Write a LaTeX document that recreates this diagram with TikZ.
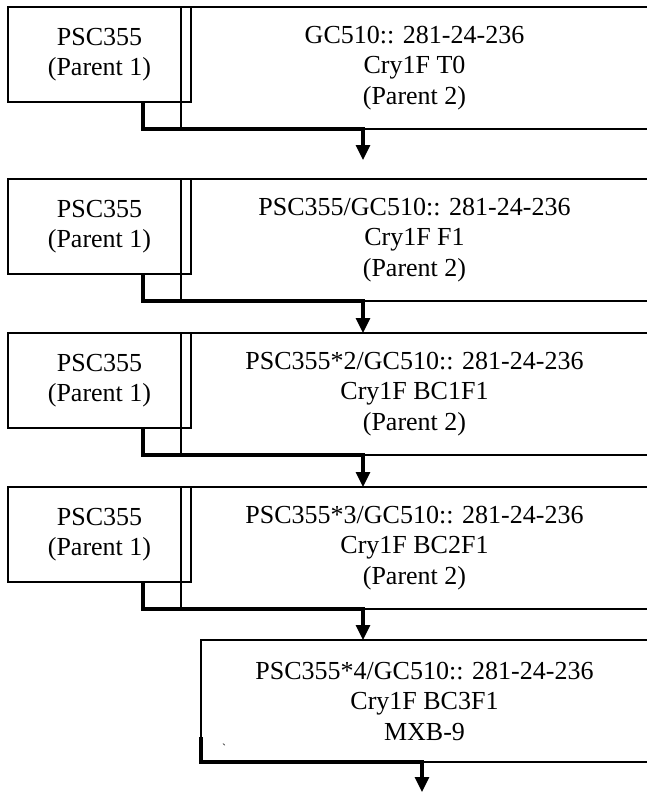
\documentclass[tikz,border=0pt]{standalone}
\usepackage{fontspec}
\setmainfont{Liberation Serif}
\usetikzlibrary{positioning,calc,arrows.meta}

\begin{document}
\begin{tikzpicture}[x=1pt,y=-1pt,
    every node/.style={font=\fontsize{26}{30.5}\selectfont},
    parent box/.style={draw,line width=1.3pt,outer sep=0pt,inner sep=2pt,align=center,
                       anchor=north west,minimum width=183pt,minimum height=95pt},
    cross box/.style={parent box,minimum width=467pt,minimum height=122pt},
    flow/.style={line width=3.2pt,-{Triangle[length=15pt,width=14pt]}},
    link/.style={line width=3.2pt}]

  \useasboundingbox (0,0) rectangle (646,793);

  % generation 1
  \node[parent box] (p1) at (8,7) {PSC355\\(Parent 1)};
  \node[cross box]  (c1) at (181,7) {GC510:: 281-24-236\\Cry1F T0\\(Parent 2)};

  % generation 2
  \node[parent box] (p2) at (8,179) {PSC355\\(Parent 1)};
  \node[cross box]  (c2) at (181,179) {PSC355/GC510:: 281-24-236\\Cry1F F1\\(Parent 2)};

  % generation 3
  \node[parent box] (p3) at (8,333) {PSC355\\(Parent 1)};
  \node[cross box]  (c3) at (181,333) {PSC355*2/GC510:: 281-24-236\\Cry1F BC1F1\\(Parent 2)};

  % generation 4
  \node[parent box] (p4) at (8,487) {PSC355\\(Parent 1)};
  \node[cross box]  (c4) at (181,487) {PSC355*3/GC510:: 281-24-236\\Cry1F BC2F1\\(Parent 2)};

  % final line
  \node[cross box,minimum width=447pt] (c5) at (201,640) {PSC355*4/GC510:: 281-24-236\\Cry1F BC3F1\\MXB-9};
  \node (tick) at (224,748) {\fontsize{12}{12}\selectfont\textasciigrave};

  \coordinate (e1) at (363,160);
  \coordinate (e2) at (363,333);
  \coordinate (e3) at (363,487);
  \coordinate (e4) at (363,640);
  \coordinate (e5) at (422,792);

  \draw[flow] ([xshift=-48pt]p1.south east) |- (e1 |- c1.south) -- (e1);
  \draw[flow] ([xshift=-48pt]p2.south east) |- (e2 |- c2.south) -- (e2);
  \draw[flow] ([xshift=-48pt]p3.south east) |- (e3 |- c3.south) -- (e3);
  \draw[flow] ([xshift=-48pt]p4.south east) |- (e4 |- c4.south) -- (e4);
  \draw[flow] ([yshift=25pt]c5.south west) -- (c5.south west) -| (e5);

\end{tikzpicture}
\end{document}
